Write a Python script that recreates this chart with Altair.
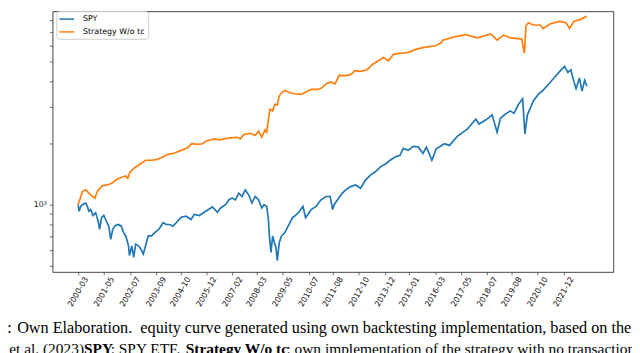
import altair as alt
import pandas as pd

# ---- data (decimal year, value) ----
spy_year = [2000.208, 2000.252, 2000.327, 2000.398, 2000.549, 2000.619, 2000.695, 2000.770, 2000.871, 2000.991,
            2001.106, 2001.168, 2001.256, 2001.358, 2001.504, 2001.579, 2001.668, 2001.756, 2001.875, 2002.021,
            2002.141, 2002.242, 2002.344, 2002.464, 2002.508, 2002.610, 2002.698, 2002.787, 2002.906, 2003.025,
            2003.127, 2003.229, 2003.348, 2003.494, 2003.645, 2003.821, 2004.012, 2004.158, 2004.308, 2004.454,
            2004.600, 2004.821, 2005.042, 2005.263, 2005.414, 2005.635, 2005.856, 2006.077, 2006.223, 2006.444,
            2006.590, 2006.811, 2006.962, 2007.108, 2007.254, 2007.404, 2007.550, 2007.696, 2007.846, 2007.992,
            2008.138, 2008.289, 2008.434, 2008.536, 2008.656, 2008.731, 2008.775, 2008.846, 2008.921, 2008.996,
            2009.067, 2009.129, 2009.217, 2009.319, 2009.465, 2009.615, 2009.806, 2009.982, 2010.128, 2010.279,
            2010.394, 2010.500, 2010.646, 2010.867, 2011.088, 2011.309, 2011.500, 2011.606, 2011.676, 2011.827,
            2012.048, 2012.194, 2012.415, 2012.636, 2012.857, 2013.078, 2013.300, 2013.521, 2013.742, 2013.963,
            2014.184, 2014.405, 2014.626, 2014.772, 2014.994, 2015.215, 2015.436, 2015.657, 2015.807, 2015.909,
            2016.055, 2016.249, 2016.617, 2016.838, 2017.205, 2017.647, 2018.019, 2018.165, 2018.461, 2018.753,
            2018.974, 2019.124, 2019.346, 2019.567, 2019.735, 2019.934, 2020.120, 2020.221, 2020.332, 2020.597,
            2020.818, 2021.039, 2021.336, 2021.628, 2021.849, 2021.999, 2022.145, 2022.278, 2022.411, 2022.512,
            2022.663, 2022.778, 2022.897, 2022.999]
spy_value = [1000, 928, 981, 1000, 1019, 981, 928, 946, 885, 912,
             830, 757, 863, 885, 816, 785, 677, 757, 792, 800,
             785, 730, 703, 629, 563, 629, 553, 641, 629, 606,
             573, 629, 703, 703, 730, 757, 816, 800, 800, 785,
             816, 868, 878, 846, 895, 885, 918, 953, 975, 918,
             964, 1000, 1057, 1077, 1057, 1139, 1097, 1182, 1118, 1019,
             1097, 1057, 964, 1000, 981, 846, 703, 584, 703, 653,
             618, 532, 653, 703, 730, 785, 863, 895, 928, 981,
             863, 895, 946, 981, 1057, 1097, 1097, 946, 1000, 1057,
             1139, 1182, 1226, 1249, 1204, 1320, 1396, 1448, 1531, 1578,
             1650, 1711, 1745, 1885, 1844, 1928, 1917, 1783, 1913, 1803,
             1650, 1879, 1987, 1950, 2167, 2347, 2623, 2481, 2594, 2752,
             2261, 2647, 2773, 2877, 2798, 3099, 3296, 2220, 2752, 3217,
             3465, 3635, 3951, 4295, 4576, 4747, 4440, 4576, 4018, 3696,
             4168, 3594, 4063, 3800]

strategy_year = [2000.208, 2000.283, 2000.398, 2000.549, 2000.695, 2000.814, 2000.960, 2001.062, 2001.283, 2001.504,
                 2001.725, 2001.946, 2002.167, 2002.344, 2002.433, 2002.539, 2002.760, 2002.981, 2003.229, 2003.494,
                 2003.715, 2004.012, 2004.233, 2004.529, 2004.821, 2005.117, 2005.294, 2005.560, 2005.781, 2005.927,
                 2006.298, 2006.519, 2006.740, 2007.032, 2007.329, 2007.475, 2007.625, 2007.917, 2008.138, 2008.289,
                 2008.434, 2008.580, 2008.656, 2008.731, 2008.802, 2008.921, 2009.023, 2009.129, 2009.217, 2009.319,
                 2009.465, 2009.686, 2009.907, 2010.204, 2010.425, 2010.646, 2010.942, 2011.132, 2011.309, 2011.530,
                 2011.721, 2011.898, 2012.194, 2012.415, 2012.605, 2012.857, 2013.154, 2013.375, 2013.596, 2013.888,
                 2014.109, 2014.330, 2014.551, 2014.772, 2014.994, 2015.365, 2015.657, 2015.953, 2016.219, 2016.471,
                 2016.542, 2017.059, 2017.577, 2017.798, 2018.090, 2018.682, 2018.983, 2019.270, 2019.567, 2019.801,
                 2020.080, 2020.199, 2020.265, 2020.376, 2020.597, 2020.893, 2021.039, 2021.336, 2021.778, 2022.070,
                 2022.220, 2022.411, 2022.720, 2022.999]
strategy_value = [1000, 1057, 1159, 1182, 1139, 1105, 1077, 1159, 1236, 1249,
                  1273, 1331, 1361, 1381, 1346, 1448, 1521, 1578, 1650, 1650,
                  1662, 1711, 1764, 1789, 1844, 1900, 1987, 1971, 1987, 2045,
                  2100, 2077, 2100, 2124, 2138, 2100, 2203, 2235, 2179, 2285,
                  2138, 2321, 2261, 2623, 2932, 2877, 3099, 3075, 3401, 3528,
                  3623, 3528, 3489, 3465, 3567, 3664, 3664, 3729, 3899, 3987,
                  3899, 4295, 4280, 4328, 4525, 4490, 4576, 4837, 5018, 5246,
                  5057, 5442, 5503, 5516, 5565, 5766, 5864, 5929, 5995, 6198,
                  6387, 6626, 6798, 6678, 6553, 6851, 6387, 6753, 6553, 6516,
                  6459, 5503, 7489, 7769, 7573, 7573, 7267, 7657, 7891, 7743,
                  7283, 7873, 8068, 8370]

series_names = ["SPY", "Strategy W/o tc"]
series_colors = ["#1f77b4", "#ff7f0e"]
tick_labels = ["2000-03", "2001-05", "2002-07", "2003-09", "2004-10", "2005-12", "2007-02", "2008-03",
               "2009-05", "2010-07", "2011-08", "2012-10", "2013-12", "2015-01", "2016-03", "2017-05",
               "2018-07", "2019-08", "2020-10", "2021-12"]
y_ticks = [500, 600, 700, 800, 900, 1000, 2000, 3000, 4000, 5000, 6000, 7000, 8000]

caption_1 = "Own Elaboration.\u00a0 equity curve generated using own backtesting implementation, based on the"
caption_2 = ["e et al. (2023)", "SPY", ": SPY ETF.", "Strategy W/o tc",
             ": own implementation of the strategy with no transaction costs"]


def to_date(y):
    yr = int(y)
    start = pd.Timestamp(yr, 1, 1)
    end = pd.Timestamp(yr + 1, 1, 1)
    return (start + (y - yr) * (end - start)).round("h")


df = pd.concat([
    pd.DataFrame({"date": [to_date(v) for v in spy_year], "value": spy_value, "series": "SPY"}),
    pd.DataFrame({"date": [to_date(v) for v in strategy_year], "value": strategy_value,
                  "series": "Strategy W/o tc"}),
], ignore_index=True)

tick_values = [alt.DateTime(year=int(s[:4]), month=int(s[5:]), date=15) for s in tick_labels]

lines = alt.Chart(df).mark_line(strokeWidth=1.7, clip=True).encode(
    x=alt.X("date:T",
            scale=alt.Scale(domain=[alt.DateTime(year=1999, month=1, date=22),
                                    alt.DateTime(year=2024, month=3, date=6)], nice=False),
            axis=alt.Axis(values=tick_values, format="%Y-%m", labelAngle=300, labelAlign="center",
                          labelBaseline="middle", labelPadding=17, tickSize=3, domain=False, grid=False,
                          title=None, labelOverlap=False, labelFlush=False, labelBound=False)),
    y=alt.Y("value:Q",
            scale=alt.Scale(type="log", domain=[469.3, 8848], nice=False, zero=False),
            axis=alt.Axis(values=y_ticks, labelExpr="datum.value == 1000 ? '10³' : ''",
                          tickSize=3, labelPadding=3, domain=False, grid=False, title=None,
                          labelOverlap=False, labelFlush=False, labelBound=False)),
    color=alt.Color("series:N",
                    scale=alt.Scale(domain=series_names, range=series_colors),
                    legend=alt.Legend(title=None, orient="none", legendX=4, legendY=0,
                                      direction="vertical", symbolType="M-1.25,0L2.5,0", symbolSize=64,
                                      symbolStrokeWidth=1.5, labelFont="DejaVu Sans", labelFontSize=8,
                                      labelColor="black", fillColor="white", strokeColor="#cccccc",
                                      cornerRadius=3, padding=3, rowPadding=4, labelOffset=14)),
)

one = pd.DataFrame({"k": [0]})


def cap_text(txt, x, y, size=15.6, bold=False, align="left"):
    kw = dict(font="Liberation Serif", fontSize=size, align=align, baseline="alphabetic", color="black")
    if bold:
        kw["fontWeight"] = "bold"
    return alt.Chart(one).mark_text(**kw).encode(x=alt.value(x), y=alt.value(y), text=alt.value(txt))


caps = [
    cap_text("e:", -53, 326, size=16.4),
    cap_text(caption_1, -35.7, 326, size=16.4),
    cap_text(caption_2[0], 32, 347, align="right"),
    cap_text(caption_2[1], 32, 347, bold=True),
    cap_text(caption_2[2], 59, 347),
    cap_text(caption_2[3], 135, 347, bold=True),
    cap_text(caption_2[4], 237, 347),
]

chart = alt.layer(lines, *caps).properties(
    width=568, height=264,
    autosize=alt.AutoSizeParams(type="none"),
    padding={"left": 45, "top": 1, "right": 19, "bottom": 80},
).configure_view(stroke="#444", strokeWidth=1).configure_axis(
    labelFont="DejaVu Sans", labelFontSize=8, labelColor="#111", tickColor="#444", tickWidth=0.8
)

chart.save("out.html", embed_options={"renderer": "svg", "actions": False})
